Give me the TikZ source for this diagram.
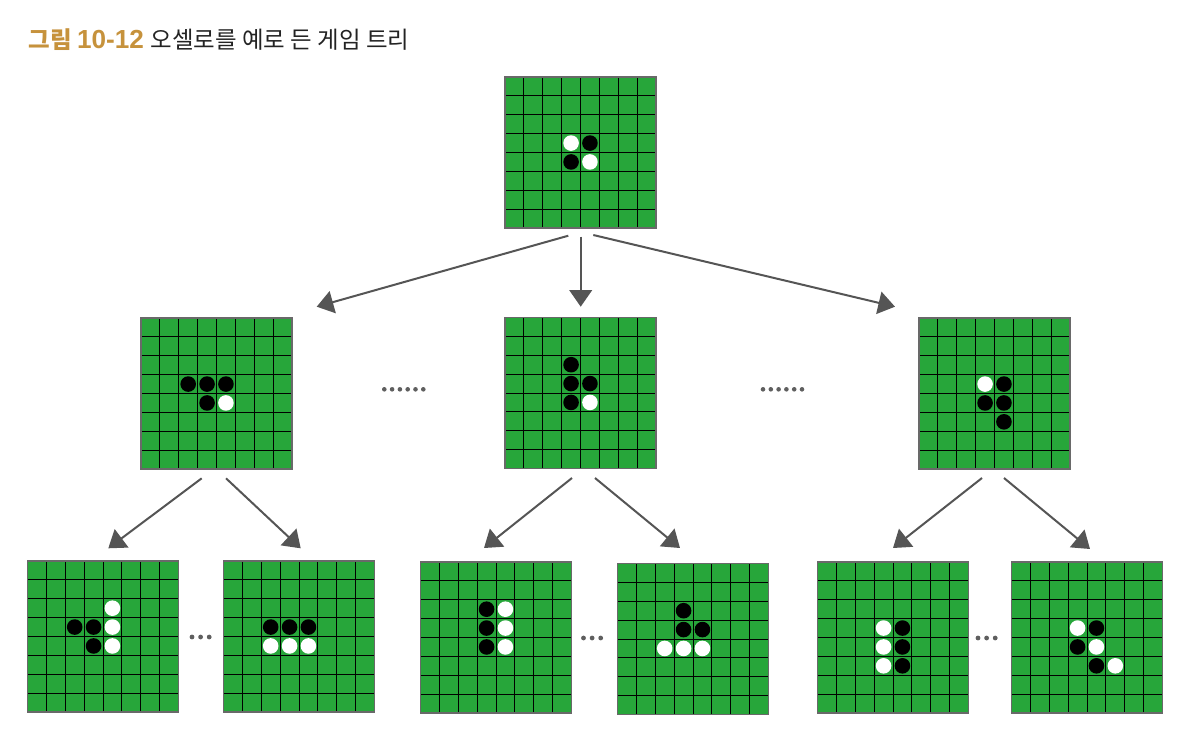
\documentclass[tikz,border=0pt]{standalone}
\usepackage{fontspec}
\newfontfamily\krfont{Noto Sans CJK KR}
\newfontfamily\numfont{Liberation Sans}
\usetikzlibrary{calc,arrows.meta}

\definecolor{boardgreen}{RGB}{39,166,58}
\definecolor{boardedge}{RGB}{105,105,105}
\definecolor{arrowgray}{RGB}{85,85,85}
\definecolor{titlegold}{RGB}{198,146,60}
\definecolor{titlegray}{RGB}{35,35,35}
\definecolor{dotgray}{RGB}{95,95,95}

\tikzset{every picture/.style={line width=0.75pt}}
\tikzset{
  board/.style={draw=boardedge, fill=boardgreen, line width=1.1pt, minimum size=113.25pt, inner sep=0pt, outer sep=0pt},
  gridline/.style={draw=black, line width=0.75pt},
  arr/.style={draw=arrowgray, line width=1.5pt, -{Triangle[length=12.5pt,width=17pt]}},
  dotmark/.style={fill=dotgray},
}

% one 8x8 board: name, centre x, centre y, black stones, white stones (col/row)
\newcommand{\othelloboard}[5]{%
  \node[board] (#1) at (#2,#3) {};
  \foreach \kk in {1,...,7} {
    \draw[gridline] ($(#1.north west)!\kk/8!(#1.north east)$) -- ($(#1.south west)!\kk/8!(#1.south east)$);
    \draw[gridline] ($(#1.north west)!\kk/8!(#1.south west)$) -- ($(#1.north east)!\kk/8!(#1.south east)$);
  }
  \draw[draw=boardedge, line width=1.1pt] (#1.north west) rectangle (#1.south east);
  \foreach \cc/\rr in {#4}
    \fill[black] ($(#1.north west)+({(\cc+0.5)*18.875},{(\rr+0.5)*18.875})$) circle[radius=7.8];
  \foreach \cc/\rr in {#5}
    \fill[white] ($(#1.north west)+({(\cc+0.5)*18.875},{(\rr+0.5)*18.875})$) circle[radius=7.8];
}

\begin{document}
\begin{tikzpicture}[x=0.75pt,y=0.75pt,yscale=-1,xscale=1]
\useasboundingbox (0,0) rectangle (1199,744);

% Text Node
\node[anchor=base west, inner sep=0pt, font=\krfont\fontsize{17.6}{20}\selectfont] (title) at (28,48.3)
  {\textcolor{titlegold}{\bfseries 그림 {\numfont\fontsize{19.6}{20}\selectfont\bfseries 10-12}}\hspace{1.2pt} \textcolor{titlegray}{오셀로를 예로 든 게임 트리}};

% Root board
\othelloboard{root}{580.5}{152.5}{4/3,3/4}{3/3,4/4}

% Second level
\othelloboard{left}{216.5}{393.5}{2/3,3/3,4/3,3/4}{4/4}
\othelloboard{mid}{580.5}{393}{3/2,3/3,4/3,3/4}{4/4}
\othelloboard{right}{994.5}{393.5}{4/3,3/4,4/4,4/5}{3/3}

% Third level
\othelloboard{leftA}{103}{636.5}{2/3,3/3,3/4}{4/2,4/3,4/4}
\othelloboard{leftB}{299}{636.5}{2/3,3/3,4/3}{2/4,3/4,4/4}
\othelloboard{midA}{496}{637.5}{3/2,3/3,3/4}{4/2,4/3,4/4}
\othelloboard{midB}{693}{639}{3/2,3/3,4/3}{2/4,3/4,4/4}
\othelloboard{rightA}{893}{637.5}{4/3,4/4,4/5}{3/3,3/4,3/5}
\othelloboard{rightB}{1087}{637.5}{4/3,3/4,4/5}{3/3,4/4,5/5}

% Arrows from the root
\draw[arr] ($(root.south)+(-12.2,7.7)$) -- ($(left.north)+(100.2,-11.3)$);
\draw[arr] ($(root.south)+(0.2,8.7)$) -- ($(mid.north)+(0.2,-10.8)$);
\draw[arr] ($(root.south)+(12.8,7)$) -- ($(right.north)+(-99.5,-11.3)$);

% Arrows from the second level
\draw[arr] ($(left.south)+(-14.8,9.3)$) -- ($(leftA.north)+(5.3,-12.7)$);
\draw[arr] ($(left.south)+(9.5,9.3)$) -- ($(leftB.north)+(1.7,-12.7)$);
\draw[arr] ($(mid.south)+(-8.5,9.5)$) -- ($(midA.north)+(-12,-14)$);
\draw[arr] ($(mid.south)+(14.5,9.5)$) -- ($(midB.north)+(-13,-15.5)$);
\draw[arr] ($(right.south)+(-12.5,9)$) -- ($(rightA.north)+(0,-14)$);
\draw[arr] ($(right.south)+(9.5,9)$) -- ($(rightB.north)+(3,-13)$);

% Ellipsis dots
\foreach \i in {0,...,5} {
  \fill[dotmark] (384.3+\i*7.8,389.3) circle[radius=2.3];
  \fill[dotmark] (763+\i*7.8,389.3) circle[radius=2.3];
}
\foreach \xx/\yy in {192/637,583.5/638,978/638}
  \foreach \i in {0,1,2}
    \fill[dotmark] (\xx+\i*8.6,\yy) circle[radius=2.4];

\end{tikzpicture}
\end{document}
